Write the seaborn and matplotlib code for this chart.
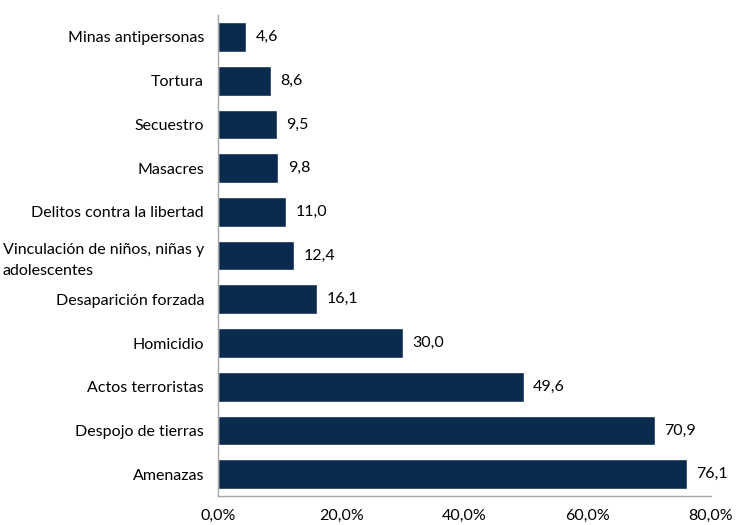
import matplotlib
matplotlib.use("Agg")
import matplotlib.pyplot as plt
from matplotlib.ticker import FuncFormatter, FixedLocator, NullFormatter
import seaborn as sns
import pandas as pd

categorias = [
    "Minas antipersonas",
    "Tortura",
    "Secuestro",
    "Masacres",
    "Delitos contra la libertad",
    "Vinculación de niños, niñas y\nadolescentes",
    "Desaparición forzada",
    "Homicidio",
    "Actos terroristas",
    "Despojo de tierras",
    "Amenazas",
]
porcentajes = [4.6, 8.6, 9.5, 9.8, 11.0, 12.4, 16.1, 30.0, 49.6, 70.9, 76.1]
ticks_x = [0, 20, 40, 60, 80]

sns.set_style("white")
plt.rcParams["font.family"] = ["Lato", "DejaVu Sans"]

df = pd.DataFrame({"categoria": categorias, "porcentaje": porcentajes})

fig = plt.figure(figsize=(7.4, 5.25), dpi=100)
ax = fig.add_axes([0.2946, 0.0552, 0.666, 0.916])

color_barra = "#0B2B4E"
sns.barplot(data=df, x="porcentaje", y="categoria", orient="h",
            color=color_barra, saturation=1, width=0.68, ax=ax)

ax.set_xlim(0, 80)
ax.set_ylim(len(categorias) - 0.5, -0.5)
ax.set_xlabel("")
ax.set_ylabel("")

ax.xaxis.set_major_locator(FixedLocator(ticks_x))
ax.xaxis.set_major_formatter(FuncFormatter(lambda v, _: f"{v:.1f}%".replace(".", ",")))

# category labels without ticks; tick marks at the boundaries between bars
ax.tick_params(axis="y", which="major", length=0, pad=10, labelsize=11.5, colors="black")
ax.yaxis.set_minor_locator(FixedLocator([i - 0.5 for i in range(len(categorias) + 1)]))
ax.yaxis.set_minor_formatter(NullFormatter())
ax.tick_params(axis="y", which="minor", length=5, width=1, color="#A6A6A6", direction="out")
ax.tick_params(axis="x", which="major", length=5, width=1, color="#A6A6A6",
               direction="out", labelsize=11.5, pad=4, labelcolor="black")
for lbl in ax.get_yticklabels():
    lbl.set_multialignment("left")
    lbl.set_linespacing(1.6)

for s in ["top", "right"]:
    ax.spines[s].set_visible(False)
for s in ["left", "bottom"]:
    ax.spines[s].set_color("#A6A6A6")
    ax.spines[s].set_linewidth(1)

for i, v in enumerate(porcentajes):
    ax.annotate(f"{v:.1f}".replace(".", ","), xy=(v, i), xytext=(7, 0),
                textcoords="offset points", va="center", ha="left",
                fontsize=11.5, color="black")

fig.savefig("out.png", dpi=100)
